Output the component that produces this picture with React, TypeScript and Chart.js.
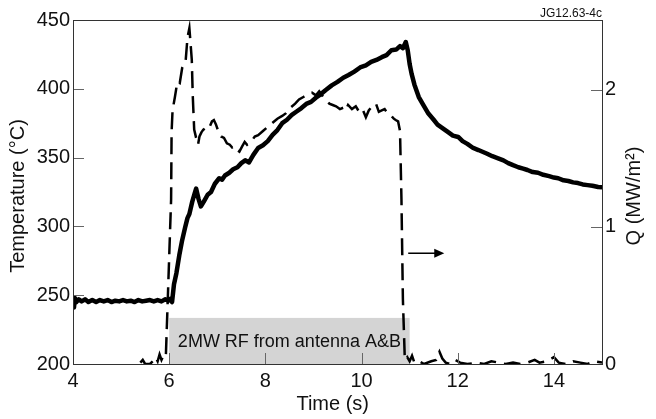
import React, { useEffect, useRef } from 'react';
import { Chart, registerables } from 'chart.js';

Chart.register(...registerables);

// ---- data ----
const tempTime = [
  4.0, 4.02, 4.04, 4.07, 4.12, 4.18, 4.25, 4.32, 4.4, 4.48, 4.56, 4.64, 4.72, 4.8, 4.88, 4.96,
  5.04, 5.12, 5.2, 5.28, 5.36, 5.44, 5.52, 5.6, 5.68, 5.76, 5.84, 5.92, 5.98, 6.03, 6.06,
  6.1, 6.15, 6.21, 6.27, 6.33, 6.38, 6.42, 6.48, 6.53, 6.56, 6.61, 6.66, 6.72, 6.8, 6.87,
  6.95, 7.04, 7.1, 7.16, 7.25, 7.33, 7.42, 7.5, 7.58, 7.66, 7.75, 7.85, 7.95, 8.05, 8.15,
  8.25, 8.35, 8.45, 8.55, 8.65, 8.75, 8.85, 8.95, 9.05, 9.15, 9.25, 9.38, 9.5, 9.62, 9.73,
  9.85, 9.97, 10.09, 10.2, 10.31, 10.42, 10.52, 10.62, 10.72, 10.8, 10.86, 10.92, 10.96,
  11.0, 11.04, 11.1, 11.19, 11.28, 11.39, 11.5, 11.58, 11.66, 11.8, 11.9, 12.01, 12.1, 12.2,
  12.32, 12.43, 12.6, 12.72, 12.84, 12.95, 13.05, 13.15, 13.26, 13.36, 13.45, 13.56, 13.67,
  13.78, 13.9, 14.0, 14.09, 14.2, 14.3, 14.4, 14.5, 14.6, 14.7, 14.8, 14.92, 15.0,
];
const tempValues = [
  247, 241, 248, 245, 247, 245.5, 247, 245, 246.5, 245, 246.5, 245.5, 246.5, 245, 246, 245.5,
  246.5, 245.5, 246, 245, 246.5, 245.5, 246, 246.5, 245.5, 246.5, 245.5, 247, 246, 247.5, 245,
  258, 266, 279, 290, 299, 306, 309, 318, 324, 327.5, 320, 314.5, 318, 323, 325,
  331, 335, 334, 337, 339, 341.5, 343, 346, 348, 346.5, 352, 357, 359, 362, 366.5,
  370, 375, 377.5, 381, 383.5, 386, 389, 390.5, 393.5, 396, 399, 402.5, 405, 408, 410,
  412.5, 415.5, 417, 419.5, 421, 423, 424.5, 428, 428.5, 431, 429.5, 434, 428,
  418, 411, 403, 394, 388.5, 382, 377.5, 374, 372, 368.5, 366, 365, 362, 360,
  357, 355.5, 353, 351, 349.5, 348, 346, 344.5, 343, 342, 341, 339.5, 339,
  337.5, 336.5, 335.5, 335, 333.5, 333, 332, 331.5, 330.5, 330, 329.5, 328.6, 328.5,
];

const qTime = [
  5.4, 5.45, 5.5, 5.6, 5.66, 5.72, 5.76, 5.8, 5.84, 5.88, 5.93, 5.96, 6.0, 6.04, 6.05, 6.07,
  6.12, 6.17, 6.22, 6.27, 6.3, 6.34, 6.38, 6.42, 6.44, 6.47, 6.49, 6.52, 6.56, 6.6, 6.63,
  6.67, 6.71, 6.75, 6.8, 6.84, 6.89, 6.93, 6.97, 7.02, 7.08, 7.14, 7.2, 7.26, 7.31, 7.37,
  7.42, 7.46, 7.52, 7.57, 7.62, 7.7, 7.78, 7.85, 7.95, 8.05, 8.15, 8.25, 8.35, 8.43, 8.52,
  8.62, 8.7, 8.8, 8.9, 8.97, 9.05, 9.12, 9.2, 9.26, 9.33, 9.4, 9.47, 9.55, 9.62, 9.67,
  9.72, 9.8, 9.88, 9.95, 10.02, 10.09, 10.15, 10.22, 10.3, 10.36, 10.42, 10.48, 10.56,
  10.62, 10.67, 10.71, 10.76, 10.8, 10.83, 10.86, 10.9, 10.95, 11.0, 11.05, 11.1, 11.2,
  11.3, 11.45, 11.55, 11.62, 11.68, 11.75, 11.85, 11.95, 12.05, 12.2, 12.4, 12.55, 12.7,
  12.85, 13.0, 13.15, 13.3, 13.45, 13.6, 13.7, 13.85, 14.0, 14.1, 14.25, 14.4, 14.55, 14.7,
  14.85, 15.0,
];
const qValues = [
  0.01, 0.03, 0.0, 0.0, 0.02, 0.05, 0.02, 0.07, 0.03, 0.06, 0.05, 0.36, 0.78, 1.2, 1.69, 1.85,
  1.95, 2.06, 2.05, 2.16, 2.18, 2.2, 2.38, 2.45, 2.36, 2.22, 1.96, 1.71, 1.65, 1.6, 1.66,
  1.69, 1.71, 1.72, 1.74, 1.73, 1.77, 1.78, 1.75, 1.7, 1.66, 1.65, 1.61, 1.6, 1.58, 1.59,
  1.56, 1.55, 1.59, 1.62, 1.6, 1.62, 1.66, 1.67, 1.7, 1.73, 1.76, 1.79, 1.81, 1.83, 1.87,
  1.9, 1.93, 1.95, 1.97, 1.98, 1.96, 1.99, 1.95, 1.93, 1.9, 1.89, 1.88, 1.86, 1.87, 1.85,
  1.89, 1.86, 1.88, 1.84, 1.86, 1.8, 1.85, 1.88, 1.9, 1.84, 1.85, 1.86, 1.82,
  1.81, 1.79, 1.78, 1.77, 1.7, 1.2, 0.47, 0.03, 0.05, 0.02, 0.06, 0.01, 0.02,
  0.0, 0.02, 0.03, 0.09, 0.04, 0.01, 0.0, 0.03, 0.01, 0.0, 0.01, 0.0, 0.02,
  0.01, 0.0, 0.01, 0.0, 0.01, 0.03, 0.01, 0.02, 0.05, 0.01, 0.0, 0.02, 0.01, 0.0,
  0.02, 0.01,
];

const xTicks = [4, 6, 8, 10, 12, 14];
const tempTicks = [200, 250, 300, 350, 400, 450];
const qTicks = [0, 1, 2];

const rfStart = 6.0;
const rfEnd = 11.0;
const rfTop = 233.5;
const rfLabel = '2MW RF from antenna A&B';
const arrowFrom = 10.97;
const arrowTo = 11.72;
const arrowLevel = 280.5;
const figId = 'JG12.63-4c';

const FONT = '"Liberation Sans", Arial, Helvetica, sans-serif';

const deco = {
  id: 'deco',
  beforeDraw(chart: any) {
    const { ctx, chartArea: a, scales } = chart;
    const x = scales.x;
    const y = scales.yT;
    ctx.save();
    ctx.fillStyle = '#ffffff';
    ctx.fillRect(0, 0, chart.width, chart.height);
    const x0 = x.getPixelForValue(rfStart);
    const x1 = x.getPixelForValue(rfEnd);
    const yTop = y.getPixelForValue(rfTop);
    const yBot = a.bottom;
    ctx.fillStyle = '#d4d4d4';
    ctx.fillRect(x0, yTop, x1 - x0, yBot - yTop);
    ctx.fillStyle = '#111';
    ctx.font = `18px ${FONT}`;
    ctx.textAlign = 'center';
    ctx.textBaseline = 'middle';
    ctx.fillText(rfLabel, (x0 + x1) / 2, (yTop + yBot) / 2 + 1);
    ctx.restore();
  },
  afterDraw(chart: any) {
    const { ctx, chartArea: a, scales } = chart;
    const x = scales.x;
    const yT = scales.yT;
    const yQ = scales.yQ;
    ctx.save();
    // tick marks (inward)
    ctx.strokeStyle = '#666';
    ctx.lineWidth = 1;
    ctx.beginPath();
    xTicks.forEach((v) => {
      const px = Math.round(x.getPixelForValue(v)) + 0.5;
      ctx.moveTo(px, a.bottom);
      ctx.lineTo(px, a.bottom - 11);
    });
    tempTicks.forEach((v) => {
      const py = Math.round(yT.getPixelForValue(v)) + 0.5;
      ctx.moveTo(a.left, py);
      ctx.lineTo(a.left + 11, py);
    });
    qTicks.forEach((v) => {
      const py = Math.round(yQ.getPixelForValue(v)) + 0.5;
      ctx.moveTo(a.right, py);
      ctx.lineTo(a.right - 11, py);
    });
    ctx.stroke();
    // frame
    ctx.strokeStyle = '#333';
    ctx.strokeRect(Math.round(a.left) + 0.5, Math.round(a.top) + 0.5, Math.round(a.right - a.left), Math.round(a.bottom - a.top));
    // arrow
    const ax0 = x.getPixelForValue(arrowFrom);
    const ax1 = x.getPixelForValue(arrowTo);
    const ay = yT.getPixelForValue(arrowLevel);
    ctx.strokeStyle = '#000';
    ctx.lineWidth = 1.5;
    ctx.beginPath();
    ctx.moveTo(ax0, ay);
    ctx.lineTo(ax1 - 8, ay);
    ctx.stroke();
    ctx.fillStyle = '#000';
    ctx.beginPath();
    ctx.moveTo(ax1, ay);
    ctx.lineTo(ax1 - 10, ay - 4.5);
    ctx.lineTo(ax1 - 10, ay + 4.5);
    ctx.closePath();
    ctx.fill();
    // axis titles
    ctx.fillStyle = '#111';
    ctx.font = `20px ${FONT}`;
    ctx.textAlign = 'center';
    ctx.textBaseline = 'middle';
    const cy = (a.top + a.bottom) / 2 + 4;
    ctx.save();
    ctx.translate(18, cy);
    ctx.rotate(-Math.PI / 2);
    ctx.fillText('Temperature (°C)', 0, 0);
    ctx.restore();
    ctx.save();
    ctx.translate(634, cy);
    ctx.rotate(-Math.PI / 2);
    ctx.fillText('Q (MW/m²)', 0, 0);
    ctx.restore();
    ctx.textBaseline = 'alphabetic';
    ctx.fillText('Time (s)', (x.getPixelForValue(9.4)), 410);
    // figure id
    ctx.font = `12px ${FONT}`;
    ctx.textAlign = 'right';
    ctx.fillText(figId, a.right, 17);
    ctx.restore();
  },
};

export default function App() {
  const ref = useRef<HTMLCanvasElement>(null);
  useEffect(() => {
    document.body.style.margin = '0';
    const canvas = ref.current!;
    const tickFont = { family: FONT, size: 20 };
    const chart = new Chart(canvas, {
      type: 'line',
      data: {
        datasets: [
          {
            label: 'Temperature',
            data: tempTime.map((t, i) => ({ x: t, y: tempValues[i] })),
            yAxisID: 'yT',
            borderColor: '#000',
            borderWidth: 4.5,
            pointRadius: 0,
            tension: 0,
            borderJoinStyle: 'round',
            borderCapStyle: 'round',
          },
          {
            label: 'Q',
            data: qTime.map((t, i) => ({ x: t, y: qValues[i] })),
            yAxisID: 'yQ',
            borderColor: '#000',
            borderWidth: 2.5,
            borderDash: [17, 8],
            pointRadius: 0,
            tension: 0,
          },
        ],
      },
      options: {
        responsive: false,
        animation: false,
        devicePixelRatio: 1,
        parsing: true,
        layout: { padding: { top: 20, left: 0, right: 0, bottom: 0 } },
        plugins: { legend: { display: false }, tooltip: { enabled: false } },
        scales: {
          x: {
            type: 'linear',
            min: 4,
            max: 15,
            afterFit: (s: any) => { s.height = 55; },
            afterBuildTicks: (s: any) => { s.ticks = xTicks.map((v) => ({ value: v })); },
            grid: { display: false, drawTicks: false },
            border: { display: false },
            ticks: { font: tickFont, color: '#111', padding: 5, maxRotation: 0 },
          },
          yT: {
            type: 'linear',
            position: 'left',
            min: 200,
            max: 450,
            afterFit: (s: any) => { s.width = 73; },
            afterBuildTicks: (s: any) => { s.ticks = tempTicks.map((v) => ({ value: v })); },
            grid: { display: false, drawTicks: false },
            border: { display: false },
            ticks: { font: tickFont, color: '#111', padding: 3 },
          },
          yQ: {
            type: 'linear',
            position: 'right',
            min: 0,
            max: 2.51,
            afterFit: (s: any) => { s.width = 54; },
            afterBuildTicks: (s: any) => { s.ticks = qTicks.map((v) => ({ value: v })); },
            grid: { display: false, drawTicks: false },
            border: { display: false },
            ticks: { font: tickFont, color: '#111', padding: 3 },
          },
        },
      },
      plugins: [deco],
    } as any);
    return () => chart.destroy();
  }, []);
  return (
    <div style={{ width: 656, height: 419 }}>
      <canvas ref={ref} width={656} height={419} style={{ display: 'block', width: 656, height: 419 }} />
    </div>
  );
}
